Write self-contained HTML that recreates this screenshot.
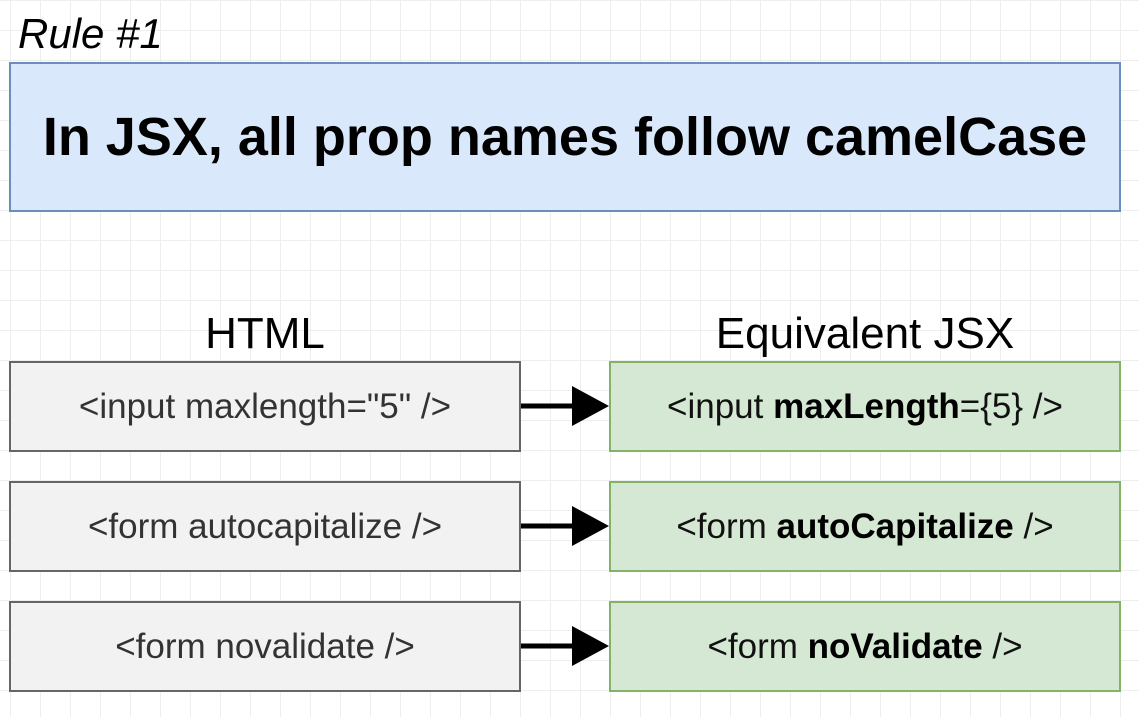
<!DOCTYPE html>
<html><head><style>
body{margin:0;width:1139px;height:717px;overflow:hidden;background:#fff;
background-image:linear-gradient(#eeeeee 1px,transparent 1px),linear-gradient(90deg,#eeeeee 1px,transparent 1px);
background-size:30px 30px;background-position:10px 0;font-family:"Liberation Sans",sans-serif;position:relative}
.a{position:absolute;box-sizing:border-box;display:flex;align-items:center;justify-content:center;white-space:nowrap}
.h{background:#f2f2f2;border:2px solid #666;color:#333;font-size:35px}
.g{background:#d5e8d4;border:2px solid #82b366;color:#111;font-size:35px}
.g b{color:#000}
.t{font-size:44px;color:#000}
</style></head><body>
<div style="position:absolute;left:18px;top:10px;font-size:42px;font-style:italic">Rule #1</div>
<div class="a" style="left:9px;top:62px;width:1112px;height:150px;background:#dae8fc;border:2px solid #6c8ebf;font-size:54px;font-weight:bold">In JSX, all prop names follow camelCase</div>
<div class="a t" style="left:9px;top:308px;width:512px;height:52px">HTML</div>
<div class="a t" style="left:609px;top:308px;width:512px;height:52px">Equivalent JSX</div>
<div class="a h" style="left:9px;top:361px;width:512px;height:91px">&lt;input maxlength="5" /&gt;</div>
<div class="a h" style="left:9px;top:481px;width:512px;height:91px">&lt;form autocapitalize /&gt;</div>
<div class="a h" style="left:9px;top:601px;width:512px;height:91px">&lt;form novalidate /&gt;</div>
<div class="a g" style="left:609px;top:361px;width:512px;height:91px">&lt;input&nbsp;<b>maxLength</b>={5} /&gt;</div>
<div class="a g" style="left:609px;top:481px;width:512px;height:91px">&lt;form&nbsp;<b>autoCapitalize</b>&nbsp;/&gt;</div>
<div class="a g" style="left:609px;top:601px;width:512px;height:91px">&lt;form&nbsp;<b>noValidate</b>&nbsp;/&gt;</div>
<svg style="position:absolute;left:0;top:0" width="1139" height="717">
<g fill="#000" stroke="#000">
<line x1="521" y1="406" x2="585" y2="406" stroke-width="5"/><polygon points="572,386 609,406 572,426" stroke="none"/>
<line x1="521" y1="526" x2="585" y2="526" stroke-width="5"/><polygon points="572,506 609,526 572,546" stroke="none"/>
<line x1="521" y1="646" x2="585" y2="646" stroke-width="5"/><polygon points="572,626 609,646 572,666" stroke="none"/>
</g></svg>
</body></html>
